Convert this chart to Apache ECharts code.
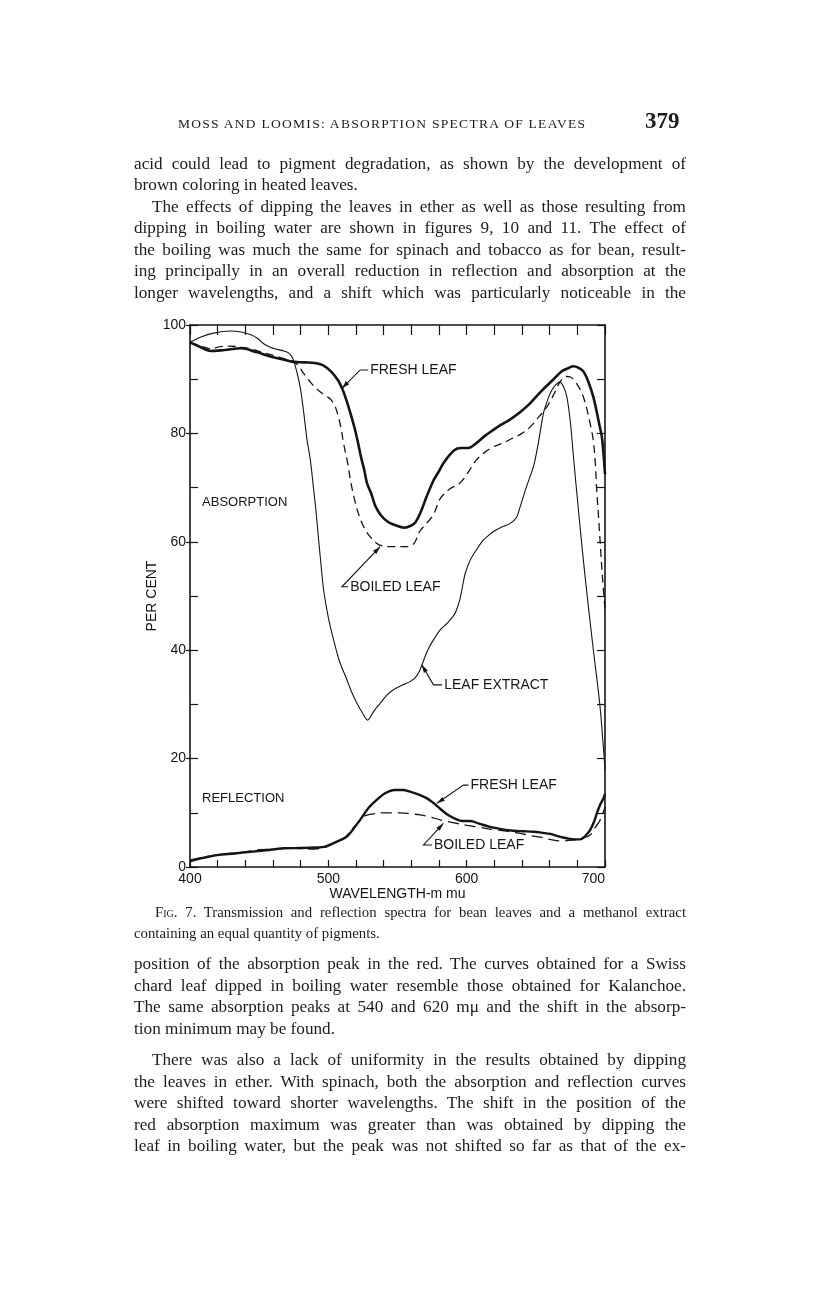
<!DOCTYPE html>
<html><head><meta charset="utf-8">
<script src="https://cdn.jsdelivr.net/npm/echarts@6/dist/echarts.min.js"></script>
<style>
html,body{margin:0;padding:0;background:#fff;}
#page{position:relative;width:816px;height:1299px;overflow:hidden;background:#fff;}
#chart{position:absolute;left:0;top:0;width:816px;height:1299px;}
.tx{position:absolute;display:inline-block;white-space:nowrap;font-family:"Liberation Serif","Times New Roman",serif;color:#1c1c1c;}
.body{font-size:17.2px;line-height:21px;}
.cap{font-size:14.8px;line-height:19px;}
.sc{font-variant:small-caps;}
</style></head>
<body><div id="page"><div id="chart"></div></div>
<script>
// ---------- data ----------
const xTicks = [400, 500, 600, 700];
const yTicks = [0, 20, 40, 60, 80, 100];

const absFresh = [[400,96.8],[407,96.0],[415,95.2],[425,95.4],[437,95.7],[448,95.0],[458,94.2],[468,93.6],[475,93.2],[483,93.1],[490,93.0],[496,92.6],[502,91.4],[507,89.8],[510,88.3],[513,86.2],[516,83.7],[519,81.0],[521,78.8],[523.5,75.8],[526,73.2],[528,70.8],[531,68.9],[534,66.6],[538,64.9],[543,63.7],[548,63.1],[555,62.6],[560,63.0],[563,63.6],[566.5,65.3],[571,68.3],[576,71.3],[579,72.6],[584,74.8],[591,76.9],[596,77.3],[601,77.3],[607,78.2],[613,79.5],[619,80.6],[625,81.6],[631,82.5],[639,84.0],[646,85.6],[654,87.8],[662.5,89.9],[669,91.5],[674,92.1],[677,92.4],[681,92.1],[684.5,91.4],[688,89.5],[691.5,86.8],[694,84.0],[696,81.5],[697.7,79.4],[699,76.0],[700,72.5]];

const absBoiled = [[400,96.8],[407,96.2],[415,95.6],[422,96.0],[429,96.1],[437,95.9],[444,95.6],[453,94.9],[463,94.2],[470,93.6],[475,93.2],[479,92.3],[482,91.1],[486,89.8],[490,88.6],[495,87.5],[499,86.8],[502,86.2],[505,84.9],[507,83.3],[509,81.2],[511,78.2],[514,74.5],[516,71.3],[518.5,68.3],[521,65.8],[525.5,62.8],[530,61.0],[535,59.7],[540,59.2],[545,59.1],[552,59.1],[557,59.1],[562,59.7],[566,61.9],[571,63.4],[576,65.0],[581,68.0],[588,69.8],[595,70.8],[601,72.8],[607,75.1],[613,76.5],[619,77.5],[626,78.2],[633,79.1],[640,80.0],[646,81.2],[652,83.0],[658,84.9],[663,87.2],[667.5,89.5],[672,90.5],[675,90.4],[679.5,89.2],[683.5,87.3],[686.5,84.9],[689.5,81.5],[691.5,78.8],[693,74.5],[694,69.6],[695.5,64.0],[696.7,59.1],[698.3,53.0],[700,47.5]];

const leafExtract = [[400,96.8],[408,97.8],[417,98.5],[429,98.9],[437,98.7],[444,98.2],[449,97.5],[453,96.6],[458,95.9],[463,95.5],[468,95.2],[471,94.9],[474,94.0],[476,92.5],[478,90.5],[480,88.0],[482,84.3],[484.6,78.8],[487,75.1],[489.4,69.6],[491,65.9],[493,60.3],[495,55.0],[496.6,51.1],[500,46.0],[503.8,41.9],[508,38.0],[513.5,34.5],[517,32.2],[520.7,30.2],[524.5,28.5],[528.4,27.1],[533,28.8],[537.5,30.2],[542,31.6],[547,32.7],[553,33.5],[559,34.2],[563,35.0],[566,36.2],[569,38.2],[572,40.1],[576,41.9],[581,43.8],[586,45.0],[590,46.2],[592,47.0],[595,49.3],[597,51.8],[599,54.2],[602.5,56.6],[607,58.5],[612,60.3],[615,61.0],[620,62.0],[626,62.8],[631.5,63.4],[636,64.5],[638.7,66.5],[643,70.0],[648.3,73.9],[652,78.5],[655.5,83.7],[659,86.5],[661.6,88.0],[664.5,89.0],[667.3,89.5],[670,88.6],[672.4,86.8],[675,82.0],[677.2,75.7],[680,68.0],[684,57.5],[688,48.0],[691.6,40.0],[696.4,29.6],[700,18.0]];

const reflFresh = [[400,1.1],[410,1.7],[419.5,2.2],[432,2.5],[443.6,2.8],[455,3.1],[467.7,3.45],[480,3.5],[491.8,3.6],[497,3.7],[503.8,4.4],[509,5.0],[513.4,5.6],[518,7.0],[523,8.7],[529,10.9],[535,12.4],[541,13.6],[548,14.2],[554,14.2],[559,13.9],[565,13.4],[571,12.7],[576,11.8],[580.6,10.8],[586,9.7],[592.7,8.8],[597,8.5],[602.5,8.5],[609,8.0],[616.9,7.4],[625,7.0],[633.8,6.7],[641,6.6],[648.3,6.5],[655,6.3],[660.4,6.1],[667,5.6],[672.4,5.3],[678,5.1],[682,5.1],[686,5.8],[689.2,6.8],[692,8.3],[694.1,9.9],[696.5,11.5],[698.9,12.7],[700,13.5]];

const reflBoiled = [[400,1.3],[412,1.9],[425,2.4],[437,2.7],[450,3.2],[462,3.3],[474,3.5],[486,3.3],[497,3.6],[505,4.5],[512,5.5],[518,7.2],[521,8.1],[525.4,9.3],[530,9.7],[535.1,9.9],[540,10.0],[552,10.0],[560,9.8],[566.4,9.6],[574,9.2],[580.9,8.7],[590,8.2],[600.1,7.7],[610,7.3],[619.4,6.9],[629,6.6],[638.7,6.2],[646,5.8],[653.2,5.5],[660,5.1],[667.6,4.8],[674,4.9],[679.7,5.1],[685,5.4],[689.3,5.9],[693,7.3],[696.6,8.7],[700,11.1]];

// annotation layout (data-space anchors): tip on curve, elbow, text start
const annotations = [
  {text:'FRESH LEAF',  tip:[509.8,88.3], elbow:[523.0,91.7], end:[528.8,91.7]},
  {text:'BOILED LEAF', tip:[537.5,59.1], elbow:[509.8,51.7], end:[514.4,51.7]},
  {text:'LEAF EXTRACT',tip:[567.6,37.3], elbow:[576.0,33.6], end:[582.3,33.6]},
  {text:'FRESH LEAF',  tip:[578.5,11.75],elbow:[597.7,15.1], end:[601.3,15.1]},
  {text:'BOILED LEAF', tip:[583.2,8.06], elbow:[568.8,4.06], end:[574.9,4.06]}
];
const regionLabels = [{text:'ABSORPTION', at:[408.7,67.2]},{text:'REFLECTION', at:[408.7,12.7]}];

// ---------- chart ----------
const INK = '#151515';
const SANS = '"Liberation Sans", Arial, sans-serif';
const chart = echarts.init(document.getElementById('chart'), null, {renderer:'canvas'});
const lineTick = {color:INK, width:1.2};
const axLine = {show:true, onZero:false, lineStyle:{color:INK, width:1.6}};
const option = {
  animation:false,
  backgroundColor:'transparent',
  grid:{left:190, top:325, width:415, height:542, containLabel:false},
  xAxis:[
    {type:'value', min:400, max:700, interval:20, position:'bottom',
     axisLine:axLine, axisTick:{show:true, inside:true, length:7, lineStyle:lineTick},
     axisLabel:{formatter:v => xTicks.indexOf(v) >= 0 ? String(v) : '', color:INK, fontSize:14, fontFamily:SANS, margin:5, alignMaxLabel:'right'},
     splitLine:{show:false},
     name:'WAVELENGTH-m mu', nameLocation:'middle', nameGap:13,
     nameTextStyle:{color:INK, fontSize:14, fontFamily:SANS, verticalAlign:'top'}},
    {type:'value', min:400, max:700, interval:20, position:'top',
     axisLine:axLine, axisTick:{show:true, inside:true, length:10, lineStyle:lineTick},
     axisLabel:{show:false}, splitLine:{show:false}}
  ],
  yAxis:[
    {type:'value', min:0, max:100, interval:10, position:'left',
     axisLine:axLine, axisTick:{show:true, inside:true, length:8, lineStyle:lineTick},
     axisLabel:{formatter:v => yTicks.indexOf(v) >= 0 ? String(v) : '', color:INK, fontSize:14, fontFamily:SANS, margin:4},
     splitLine:{show:false},
     name:'PER CENT', nameLocation:'middle', nameGap:31, nameRotate:90, nameMoveOverlap:false,
     nameTextStyle:{color:INK, fontSize:14, fontFamily:SANS}},
    {type:'value', min:0, max:100, interval:20, position:'left',
     axisLine:{show:false, onZero:false}, axisTick:{show:true, inside:false, length:4, lineStyle:lineTick},
     axisLabel:{show:false}, splitLine:{show:false}},
    {type:'value', min:0, max:100, interval:10, position:'right',
     axisLine:axLine, axisTick:{show:true, inside:true, length:8, lineStyle:lineTick},
     axisLabel:{show:false}, splitLine:{show:false}}
  ],
  series:[
    {name:'Fresh leaf (absorption)', type:'line', data:absFresh, smooth:0.35, symbol:'none', lineStyle:{color:INK, width:2.6}},
    {name:'Boiled leaf (absorption)', type:'line', data:absBoiled, smooth:0.35, symbol:'none', lineStyle:{color:INK, width:1.3, type:[8,5]}},
    {name:'Leaf extract', type:'line', data:leafExtract, smooth:0.3, symbol:'none', lineStyle:{color:INK, width:1.1}},
    {name:'Fresh leaf (reflection)', type:'line', data:reflFresh, smooth:0.35, symbol:'none', lineStyle:{color:INK, width:2.4}},
    {name:'Boiled leaf (reflection)', type:'line', data:reflBoiled, smooth:0.35, symbol:'none', lineStyle:{color:INK, width:1.3, type:[11,6]}}
  ]
};
chart.setOption(option);

function px(p){ return chart.convertToPixel({xAxisIndex:0, yAxisIndex:0}, p); }
const graphics = [];
annotations.forEach(a => {
  const t = px(a.tip), e = px(a.elbow), n = px(a.end);
  graphics.push({type:'polyline', shape:{points:[t, e, n]}, style:{stroke:INK, lineWidth:1.1, fill:null}, z:10});
  const dx = t[0]-e[0], dy = t[1]-e[1], L = Math.hypot(dx,dy), ux = dx/L, uy = dy/L;
  const bx = t[0]-ux*8, by = t[1]-uy*8;
  graphics.push({type:'polygon', shape:{points:[[t[0],t[1]],[bx-uy*2.3,by+ux*2.3],[bx+uy*2.3,by-ux*2.3]]}, style:{fill:INK}, z:10});
  graphics.push({type:'text', x:n[0]+2, y:n[1], style:{text:a.text, fill:INK, font:'14px '+SANS, textAlign:'left', textVerticalAlign:'middle'}, z:10});
});
regionLabels.forEach(r => {
  const p = px(r.at);
  graphics.push({type:'text', x:p[0], y:p[1], style:{text:r.text, fill:INK, font:'13px '+SANS, textAlign:'left', textVerticalAlign:'middle'}, z:10});
});
chart.setOption({graphic:graphics});

// ---------- page text ----------
const page = document.getElementById('page');
function addLine(html, cls, left, top, width){
  const d = document.createElement('div');
  d.className = 'tx ' + cls;
  d.style.left = left + 'px'; d.style.top = top + 'px';
  d.innerHTML = html;
  page.appendChild(d);
  if (width){
    const w = d.getBoundingClientRect().width;
    const spaces = (d.textContent.match(/ /g) || []).length;
    if (spaces) d.style.wordSpacing = ((width - w) / spaces) + 'px';
  }
  return d;
}
// header
const hdr = addLine('MOSS AND LOOMIS: ABSORPTION SPECTRA OF LEAVES', 'body', 178, 113, 0);
hdr.style.fontSize = '13.5px'; hdr.style.letterSpacing = '0px';
(function(){ const w = hdr.getBoundingClientRect().width; const n = hdr.textContent.length; hdr.style.letterSpacing = ((407 - w)/ (n-1)) + 'px'; })();
const pg = addLine('379', 'body', 645, 110, 0); pg.style.fontSize = '23px'; pg.style.fontWeight = 'bold';

const bodyTop = [
  ['acid could lead to pigment degradation, as shown by the development of', 134, 165, 552],
  ['brown coloring in heated leaves.', 134, 186, 0],
  ['The effects of dipping the leaves in ether as well as those resulting from', 152, 208, 534],
  ['dipping in boiling water are shown in figures 9, 10 and 11. The effect of', 134, 229, 552],
  ['the boiling was much the same for spinach and tobacco as for bean, result-', 134, 251, 552],
  ['ing principally in an overall reduction in reflection and absorption at the', 134, 272, 552],
  ['longer wavelengths, and a shift which was particularly noticeable in the', 134, 294, 552],
  ['position of the absorption peak in the red. The curves obtained for a Swiss', 134, 965, 552],
  ['chard leaf dipped in boiling water resemble those obtained for Kalanchoe.', 134, 987, 552],
  ['The same absorption peaks at 540 and 620 m\u03bc and the shift in the absorp-', 134, 1008, 552],
  ['tion minimum may be found.', 134, 1030, 0],
  ['There was also a lack of uniformity in the results obtained by dipping', 152, 1061, 534],
  ['the leaves in ether. With spinach, both the absorption and reflection curves', 134, 1083, 552],
  ['were shifted toward shorter wavelengths. The shift in the position of the', 134, 1104, 552],
  ['red absorption maximum was greater than was obtained by dipping the', 134, 1126, 552],
  ['leaf in boiling water, but the peak was not shifted so far as that of the ex-', 134, 1147, 552]
];
bodyTop.forEach(l => addLine(l[0], 'body', l[1], l[2] - 12, l[3]));
addLine('<span class="sc">Fig.</span> 7. Transmission and reflection spectra for bean leaves and a methanol extract', 'cap', 155, 914 - 11, 531);
addLine('containing an equal quantity of pigments.', 'cap', 134, 935 - 11, 0);
</script>
</body></html>
